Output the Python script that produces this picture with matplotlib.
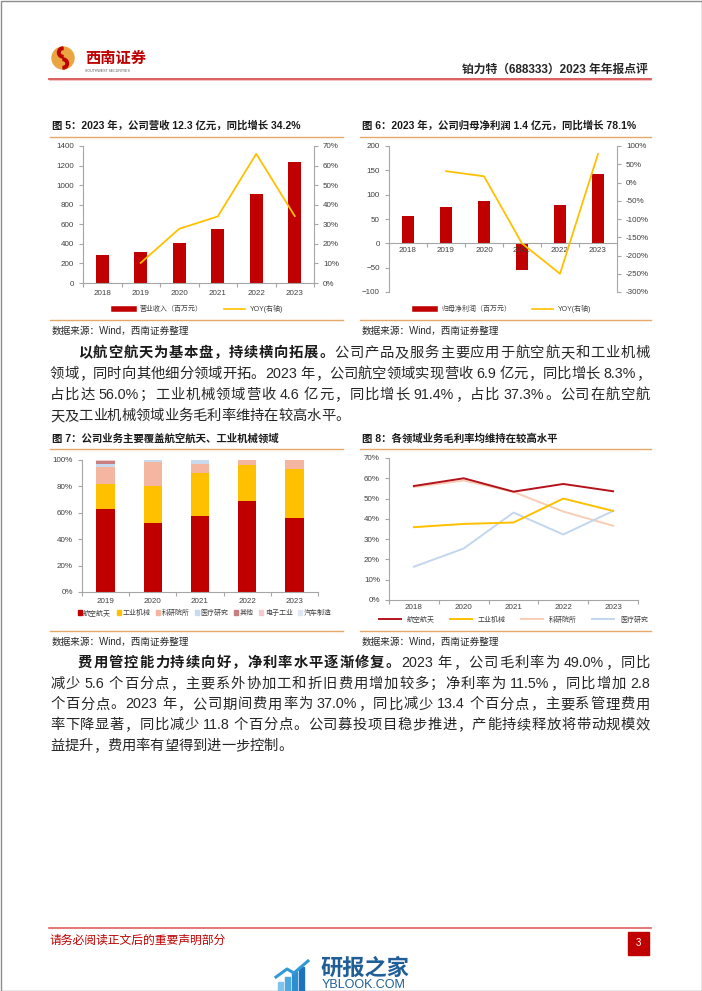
import matplotlib
matplotlib.use("Agg")
import matplotlib.pyplot as plt
import numpy as np
from matplotlib.lines import Line2D
from matplotlib.patches import Rectangle, Circle, Wedge, Patch

plt.rcParams['font.family'] = ['Liberation Sans', 'Noto Sans CJK SC', 'DejaVu Sans']

# ---- data read from the page ----
rev_years = ['2018', '2019', '2020', '2021', '2022', '2023']
revenue = [285, 320, 408, 550, 912, 1232]            # 百万元
revenue_yoy = [np.nan, 10.3, 27.7, 34.0, 66.0, 34.2]  # %

np_years = ['2018', '2019', '2020', '2021', '2022', '2023']
net_profit = [56, 74, 87, -54, 79, 142]
net_profit_yoy = [np.nan, 31, 17, -167, -250, 78.1]

mix_years = ['2019', '2020', '2021', '2022', '2023']
mix_names = ['航空航天', '工业机械', '科研院所', '医疗研究', '其他', '电子工业', '汽车制造']
mix_aero = [62.8, 52.4, 57.2, 69.1, 56.0]
mix_ind = [18.7, 28.1, 32.7, 27.1, 37.3]
mix_res = [13.5, 17.7, 7.1, 3.8, 6.7]
mix_med = [2.0, 1.8, 3.0, 0.0, 0.0]
mix_other = [2.5, 0.0, 0.0, 0.0, 0.0]
mix_elec = [0.5, 0.0, 0.0, 0.0, 0.0]
mix_auto = [0.0, 0.0, 0.0, 0.0, 0.0]

gm_years = ['2018', '2020', '2021', '2022', '2023']
gm_aero = [56.2, 60.0, 53.4, 57.2, 53.6]
gm_ind = [35.9, 37.5, 38.2, 50.0, 43.9]
gm_res = [55.7, 58.9, 53.3, 43.6, 36.6]
gm_med = [16.4, 25.4, 43.1, 32.3, 43.9]

RED = '#C00000'
GOLD = '#FFC000'
TAN = '#E6A76A'
AX_C = '#A6A6A6'
TXT_C = '#404040'
mix_colors = [RED, GOLD, '#F4B6A0', '#C9DAEE', '#C97F80', '#F3C9CF', '#DDE6F2']

W, H = 702, 991
fig = plt.figure(figsize=(W / 100, H / 100), dpi=100)
bg = fig.add_axes([0, 0, 1, 1])
bg.set_xlim(0, W)
bg.set_ylim(H, 0)
bg.axis('off')
renderer = fig.canvas.get_renderer()


def panel(x0, y0, x1, y1):
    return fig.add_axes([x0 / W, 1 - y1 / H, (x1 - x0) / W, (y1 - y0) / H])


def style(ax, spines):
    for s in ['left', 'right', 'top', 'bottom']:
        ax.spines[s].set_visible(s in spines)
        ax.spines[s].set_color(AX_C)
        ax.spines[s].set_linewidth(0.8)
    ax.tick_params(labelsize=5.8, colors=AX_C, labelcolor=TXT_C,
                   length=3, width=0.8, direction='out')


def cat_x(ax, labels, pad=3):
    n = len(labels)
    ax.set_xlim(-0.5, n - 0.5)
    ax.set_xticks(range(n))
    ax.set_xticklabels(labels)
    ax.set_xticks(np.arange(-0.5, n), minor=True)
    ax.tick_params(axis='x', which='major', length=0, pad=pad)
    ax.tick_params(axis='x', which='minor', length=3, color=AX_C, width=0.8)


def pct(vals):
    return ['%d%%' % v for v in vals]


# ---- page frame, header, footer ----
bg.add_patch(Rectangle((0.5, 0.5), W - 1, H - 1, fill=False, ec='#8C8C8C', lw=1))
bg.add_patch(Circle((63, 58), 11, color='#E9A640'))
bg.add_patch(Wedge((63, 52.5), 5.5, 90, 270, width=2.6, color=RED))
bg.add_patch(Wedge((63, 63.5), 5.5, -90, 90, width=2.6, color=RED))
bg.text(85, 59, '西南证券', color=RED, fontsize=11, fontweight='bold', va='center')
bg.text(85, 70.5, 'SOUTHWEST SECURITIES', color='#555555', fontsize=2.6, va='center')
bg.text(648, 70, '铂力特（688333）2023 年年报点评', fontsize=8.5, fontweight='bold',
        color='#262626', ha='right', va='center')
bg.plot([49, 651], [79, 79], color='#D9534F', lw=1.3)
bg.plot([49, 651], [79.9, 79.9], color='#F2B8B8', lw=0.6)

bg.plot([49, 651], [928, 928], color='#E06060', lw=1.2)
bg.text(50, 941, '请务必阅读正文后的重要声明部分', color='#C00000', fontsize=8.5, va='center')
bg.add_patch(Rectangle((628, 932), 21, 23, color='#C00000'))
bg.text(638.5, 943.5, '3', color='white', fontsize=7, ha='center', va='center')

# watermark
for i, (bx, bh) in enumerate([(278, 9), (285, 14), (292, 19), (299, 24)]):
    bg.add_patch(Rectangle((bx, 991 - bh), 5, bh, color=['#7EC3EA', '#4FA9DE', '#2D8ED0', '#1C74BC'][i]))
bg.plot([276, 287, 294, 308], [977, 969, 973, 961], color='#3399D6', lw=2.2)
bg.text(320, 969, '研报之家', color='#1F5E96', fontsize=16, fontweight='bold', va='center')
bg.text(322, 985, 'YBLOOK.COM', color='#1F5E96', fontsize=9, va='center')


def chart_frame(x0, x1, ytitle, yline, ybottom, ysrc, title):
    bg.text(x0 + 2, ytitle, title, fontsize=7.5, fontweight='bold', color='#1A1A1A', va='center')
    bg.plot([x0, x1], [yline, yline], color=TAN, lw=1.0)
    bg.plot([x0, x1], [ybottom, ybottom], color=TAN, lw=1.0)
    bg.text(x0 + 2, ysrc, '数据来源：Wind，西南证券整理', fontsize=6.9, color='#262626', va='center')


chart_frame(50, 343, 125, 137, 320, 331, '图 5：2023 年，公司营收 12.3 亿元，同比增长 34.2%')
chart_frame(360, 651, 125, 137, 320, 331, '图 6：2023 年，公司归母净利润 1.4 亿元，同比增长 78.1%')
chart_frame(50, 343, 438, 449, 631, 642, '图 7：公司业务主要覆盖航空航天、工业机械领域')
chart_frame(360, 651, 438, 449, 631, 642, '图 8：各领域业务毛利率均维持在较高水平')

# ---- body text (justified) ----
BODY = 10.3
RIGHT = 650
SPACE_W = 3.5


def tokens(s, weight):
    out, run, gap = [], '', 0
    for ch in s:
        if ch == ' ':
            if run:
                out.append([run, weight, gap]); run, gap = '', 0
            gap += 1
        elif ord(ch) < 128:
            run += ch
        else:
            if run:
                out.append([run, weight, gap]); run, gap = '', 0
            out.append([ch, weight, gap]); gap = 0
    if run:
        out.append([run, weight, gap])
    return out


def tok_w(s, weight):
    t = bg.text(0, 0, s, fontsize=BODY, fontweight=weight)
    w = t.get_window_extent(renderer).width
    t.remove()
    return w


def text_line(x0, y, toks, justify):
    widths = [tok_w(s, wt) for s, wt, g in toks]
    natural = sum(widths) + SPACE_W * sum(g for s, wt, g in toks)
    extra = (RIGHT - x0 - natural) / (len(toks) - 1) if justify else 0
    xc = x0
    for (s, wt, g), w in zip(toks, widths):
        xc += g * SPACE_W
        bg.text(xc, y, s, fontsize=BODY, fontweight=wt,
                color='#1A1A1A' if wt == 'bold' else '#262626', va='baseline')
        xc += w + extra


def para(bold_head, lines, y0, step):
    for i, line in enumerate(lines):
        y = y0 + i * step
        last = i == len(lines) - 1
        if i == 0:
            text_line(78, y, tokens(bold_head, 'bold') + tokens(line, 'normal'), not last)
        else:
            text_line(50, y, tokens(line, 'normal'), not last)


para('以航空航天为基本盘，持续横向拓展。',
     ['公司产品及服务主要应用于航空航天和工业机械',
      '领域，同时向其他细分领域开拓。2023 年，公司航空领域实现营收 6.9 亿元，同比增长 8.3%，',
      '占比达 56.0%；工业机械领域营收 4.6 亿元，同比增长 91.4%，占比 37.3%。公司在航空航',
      '天及工业机械领域业务毛利率维持在较高水平。'],
     357, 21)

para('费用管控能力持续向好，净利率水平逐渐修复。',
     ['2023 年，公司毛利率为 49.0%，同比',
      '减少 5.6 个百分点，主要系外协加工和折旧费用增加较多；净利率为 11.5%，同比增加 2.8',
      '个百分点。2023 年，公司期间费用率为 37.0%，同比减少 13.4 个百分点，主要系管理费用',
      '率下降显著，同比减少 11.8 个百分点。公司募投项目稳步推进，产能持续释放将带动规模效',
      '益提升，费用率有望得到进一步控制。'],
     667, 20.7)

# ---- 图5 ----
ax5 = panel(83, 146, 314, 283)
x = np.arange(len(rev_years))
ax5.bar(x, revenue, width=0.34, color=RED)
ax5.set_ylim(0, 1400)
ax5.set_yticks(range(0, 1401, 200))
style(ax5, ['left', 'bottom'])
cat_x(ax5, rev_years, pad=5)
ax5r = ax5.twinx()
ax5r.plot(x, revenue_yoy, color=GOLD, lw=1.3)
ax5r.set_ylim(0, 70)
ax5r.set_yticks(range(0, 71, 10))
ax5r.set_yticklabels(pct(range(0, 71, 10)))
style(ax5r, ['right'])
ax5.legend(handles=[Line2D([], [], color=RED, lw=4), Line2D([], [], color=GOLD, lw=1.2)],
           labels=['营业收入（百万元）', 'YOY(右轴)'], loc='center', bbox_to_anchor=(0.5, -0.19),
           ncol=2, frameon=False, fontsize=5, handlelength=3, columnspacing=3, labelcolor=TXT_C)

# ---- 图6 ----
ax6 = panel(389, 146, 617, 292)
x = np.arange(len(np_years))
ax6.bar(x, net_profit, width=0.34, color=RED)
ax6.set_ylim(-100, 200)
ax6.set_yticks(range(-100, 201, 50))
style(ax6, ['left', 'bottom'])
ax6.spines['bottom'].set_position(('data', 0))
cat_x(ax6, np_years, pad=3)
ax6r = ax6.twinx()
ax6r.plot(x, net_profit_yoy, color=GOLD, lw=1.3)
ax6r.set_ylim(-300, 100)
ax6r.set_yticks(range(-300, 101, 50))
ax6r.set_yticklabels(pct(range(-300, 101, 50)))
style(ax6r, ['right'])
ax6.legend(handles=[Line2D([], [], color=RED, lw=4), Line2D([], [], color=GOLD, lw=1.2)],
           labels=['归母净利润（百万元）', 'YOY(右轴)'], loc='center', bbox_to_anchor=(0.5, -0.116),
           ncol=2, frameon=False, fontsize=5, handlelength=3, columnspacing=3, labelcolor=TXT_C)

# ---- 图7 ----
ax7 = panel(82, 460, 318, 592)
x = np.arange(len(mix_years))
bottom = np.zeros(len(mix_years))
for vals, col in zip([mix_aero, mix_ind, mix_res, mix_med, mix_other, mix_elec, mix_auto], mix_colors):
    ax7.bar(x, vals, bottom=bottom, width=0.39, color=col)
    bottom += np.array(vals)
ax7.set_ylim(0, 100)
ax7.set_yticks(range(0, 101, 20))
ax7.set_yticklabels(pct(range(0, 101, 20)))
style(ax7, ['left', 'bottom'])
cat_x(ax7, mix_years, pad=4)
ax7.legend(handles=[Patch(color=c) for c in mix_colors], labels=mix_names, loc='center',
           bbox_to_anchor=(0.52, -0.16), ncol=7, frameon=False, fontsize=5, handlelength=0.6,
           handleheight=0.6, handletextpad=0.2, columnspacing=0.8, labelcolor=TXT_C)

# ---- 图8 ----
ax8 = panel(389, 458, 638, 600)
x = np.arange(len(gm_years))
gm_colors = ['#B5121B', GOLD, '#F8CDB5', '#C3D6EE']
gm_names = ['航空航天', '工业机械', '科研院所', '医疗研究']
for vals, col, zo in zip([gm_res, gm_med, gm_ind, gm_aero], [gm_colors[2], gm_colors[3], gm_colors[1], gm_colors[0]], [2, 2, 3, 4]):
    ax8.plot(x, vals, color=col, lw=1.4, zorder=zo)
ax8.set_ylim(0, 70)
ax8.set_yticks(range(0, 71, 10))
ax8.set_yticklabels(pct(range(0, 71, 10)))
style(ax8, ['left', 'bottom'])
cat_x(ax8, gm_years, pad=3)
ax8.legend(handles=[Line2D([], [], color=c, lw=1.4) for c in gm_colors], labels=gm_names,
           loc='center', bbox_to_anchor=(0.5, -0.14), ncol=4, frameon=False, fontsize=5,
           handlelength=3.2, columnspacing=2.2, labelcolor=TXT_C)

fig.savefig('out.png', dpi=100)
